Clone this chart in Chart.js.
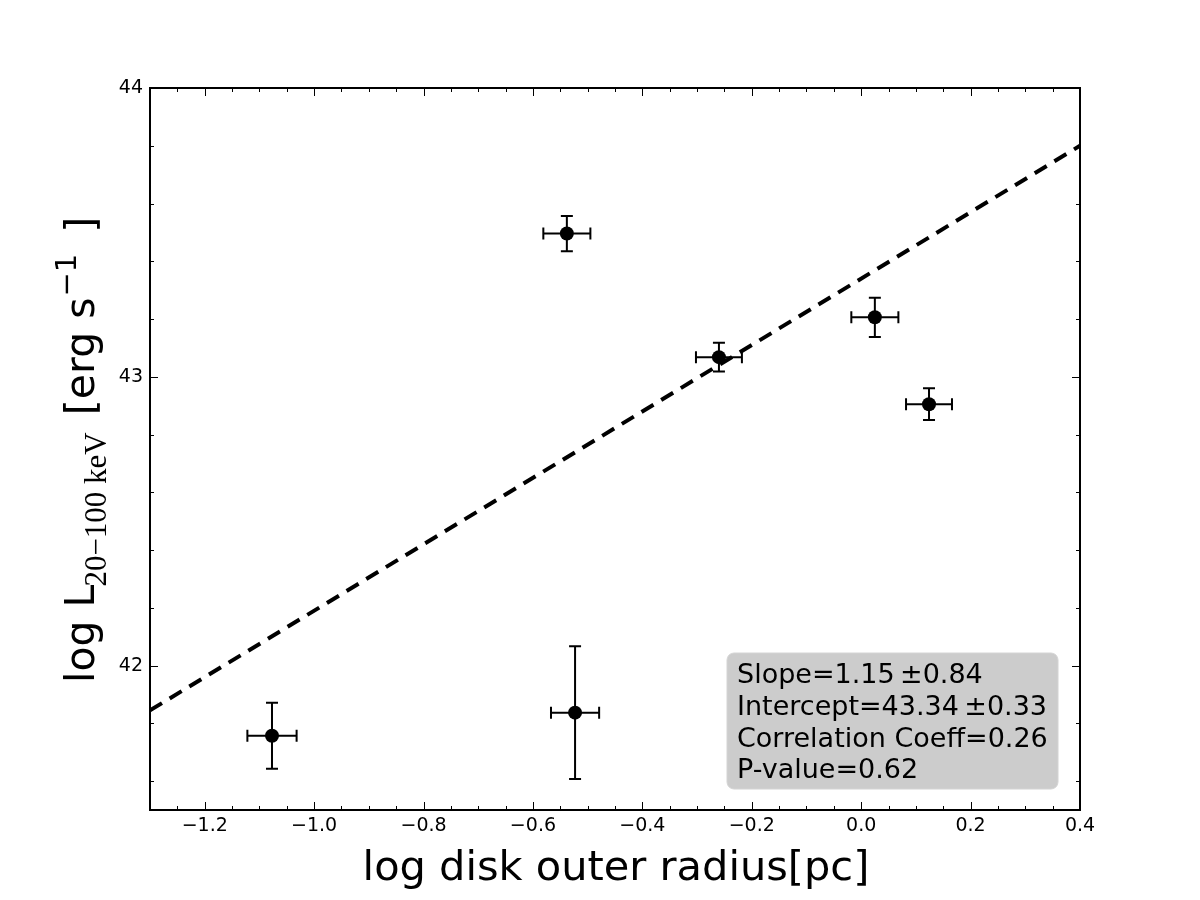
<!DOCTYPE html>
<html><head><meta charset="utf-8">
<script src="https://cdn.jsdelivr.net/npm/chart.js@4.4.1/dist/chart.umd.min.js"></script>
<style>html,body{margin:0;padding:0;background:#fff;} #wrap{width:1200px;height:900px;}</style>
</head><body><div id="wrap"><canvas id="c" width="1200" height="900"></canvas></div>
<script>
// ---- data ----
const xVals = [-1.077, -0.523, -0.538, -0.260, 0.025, 0.124];
const yVals = [41.757, 41.837, 43.496, 43.068, 43.206, 42.905];
const xErr  = [0.045, 0.044, 0.043, 0.042, 0.043, 0.042];
const yErr  = [0.114, 0.230, 0.061, 0.050, 0.068, 0.055];
const fitX  = [-1.3, 0.4];
const fitY  = [41.845, 43.80];
const xMajorTicks = [-1.2, -1.0, -0.8, -0.6, -0.4, -0.2, 0.0, 0.2, 0.4];
const yMajorTicks = [42, 43, 44];
const xRange = [-1.3, 0.4];
const yRange = [41.5, 44];
const xTitle = 'log disk outer radius[pc]';
const statLines = ['Slope=1.15\u2009\u00b10.84', 'Intercept=43.34\u2009\u00b10.33', 'Correlation Coeff=0.26', 'P-value=0.62'];

const SANS = "'DejaVu Sans', sans-serif";
const SERIF = "'Liberation Serif', 'DejaVu Serif', serif";

const fmt = v => { const s = Math.abs(v) < 1e-9 ? '0.0' : v.toFixed(1); return s.replace('-', '\u2212'); };

const errorBars = {
  id: 'errorBars',
  beforeDatasetsDraw(chart) {
    const {ctx, scales: {x, y}} = chart;
    ctx.save();
    ctx.strokeStyle = '#000'; ctx.lineWidth = 2; ctx.lineCap = 'butt';
    const cap = 6;
    for (let i = 0; i < xVals.length; i++) {
      const px = x.getPixelForValue(xVals[i]), py = y.getPixelForValue(yVals[i]);
      const x0 = x.getPixelForValue(xVals[i] - xErr[i]), x1 = x.getPixelForValue(xVals[i] + xErr[i]);
      const y0 = y.getPixelForValue(yVals[i] - yErr[i]), y1 = y.getPixelForValue(yVals[i] + yErr[i]);
      ctx.beginPath();
      ctx.moveTo(x0, py); ctx.lineTo(x1, py);
      ctx.moveTo(x0, py - cap); ctx.lineTo(x0, py + cap);
      ctx.moveTo(x1, py - cap); ctx.lineTo(x1, py + cap);
      ctx.moveTo(px, y0); ctx.lineTo(px, y1);
      ctx.moveTo(px - cap, y0); ctx.lineTo(px + cap, y0);
      ctx.moveTo(px - cap, y1); ctx.lineTo(px + cap, y1);
      ctx.stroke();
    }
    ctx.restore();
  }
};

const frame = {
  id: 'frame',
  afterDraw(chart) {
    const {ctx, chartArea: a, scales: {x, y}} = chart;
    ctx.save();
    // ticks
    ctx.strokeStyle = '#000'; ctx.lineWidth = 1;
    ctx.beginPath();
    const nx = Math.round((xRange[1] - xRange[0]) / 0.05);
    for (let k = 0; k <= nx; k++) {
      const v = xRange[0] + k * 0.05;
      const major = xMajorTicks.some(t => Math.abs(t - v) < 1e-6);
      const L = major ? 8 : 4;
      const px = Math.round(x.getPixelForValue(v)) + 0.5;
      ctx.moveTo(px, a.bottom); ctx.lineTo(px, a.bottom - L);
      ctx.moveTo(px, a.top); ctx.lineTo(px, a.top + L);
    }
    const ny = Math.round((yRange[1] - yRange[0]) / 0.1);
    for (let k = 0; k <= ny; k++) {
      const v = yRange[0] + k * 0.1;
      const r = Math.round(v * 10);
      if (r % 2 !== 0) continue;
      const major = yMajorTicks.some(t => Math.abs(t - v) < 1e-6);
      const L = major ? 8 : 4;
      const py = Math.round(y.getPixelForValue(v)) + 0.5;
      ctx.moveTo(a.left, py); ctx.lineTo(a.left + L, py);
      ctx.moveTo(a.right, py); ctx.lineTo(a.right - L, py);
    }
    ctx.stroke();
    // border
    ctx.lineWidth = 2;
    ctx.strokeRect(a.left, a.top, a.right - a.left, a.bottom - a.top);

    // stats box
    const bx = a.right - 353, by = a.bottom - 157, bw = 331, bh = 136;
    ctx.fillStyle = '#cccccc';
    ctx.strokeStyle = '#d4d4d4'; ctx.lineWidth = 1;
    ctx.beginPath();
    if (ctx.roundRect) ctx.roundRect(bx, by, bw, bh, 7); else ctx.rect(bx, by, bw, bh);
    ctx.fill(); ctx.stroke();
    ctx.fillStyle = '#000';
    ctx.font = '27px ' + SANS;
    ctx.textAlign = 'left'; ctx.textBaseline = 'alphabetic';
    statLines.forEach((s, i) => ctx.fillText(s, bx + 10, by + 30 + i * 31.8));

    // x title
    ctx.font = '41.5px ' + SANS;
    ctx.textAlign = 'center';
    ctx.fillText(xTitle, (a.left + a.right) / 2 + 1, 880);

    // y title (rotated, with sub/superscripts)
    ctx.translate(94, 683);
    ctx.rotate(-Math.PI / 2);
    ctx.textAlign = 'left';
    let cx = 0;
    const part = (t, font, dy) => { ctx.font = font; ctx.fillText(t, cx, dy); cx += ctx.measureText(t).width; };
    part('log L', '41px ' + SANS, 0);
    cx -= 2;
    part('20\u2212100 keV', '31px ' + SERIF, 12);
    cx += 4;
    part(' [erg s', '41px ' + SANS, 0);
    cx += 1;
    part('\u22121', '29px ' + SANS, -18);
    cx += 8;
    part(' ]', '41px ' + SANS, 0);
    ctx.restore();
  }
};

new Chart(document.getElementById('c'), {
  type: 'scatter',
  data: {
    datasets: [
      {
        data: xVals.map((v, i) => ({x: v, y: yVals[i]})),
        backgroundColor: '#000', borderColor: '#000',
        pointRadius: 7, pointHoverRadius: 7, borderWidth: 0
      },
      {
        type: 'line',
        data: fitX.map((v, i) => ({x: v, y: fitY[i]})),
        borderColor: '#000', borderWidth: 4, borderDash: [14, 9],
        pointRadius: 0, fill: false, showLine: true, tension: 0
      }
    ]
  },
  options: {
    responsive: false, animation: false, devicePixelRatio: 1,
    layout: {padding: {top: 88, right: 120, left: 0, bottom: 0}},
    plugins: {legend: {display: false}, tooltip: {enabled: false}},
    scales: {
      x: {
        type: 'linear', min: xRange[0], max: xRange[1],
        grid: {display: false, drawTicks: false}, border: {display: false},
        afterBuildTicks: s => { s.ticks = xMajorTicks.map(v => ({value: v})); },
        afterFit: s => { s.height = 90; },
        ticks: {padding: 5, color: '#000', font: {family: SANS, size: 19}, callback: v => fmt(v), maxRotation: 0, autoSkip: false}
      },
      y: {
        type: 'linear', min: yRange[0], max: yRange[1],
        grid: {display: false, drawTicks: false}, border: {display: false},
        afterBuildTicks: s => { s.ticks = yMajorTicks.map(v => ({value: v})); },
        afterFit: s => { s.width = 150; },
        ticks: {padding: 7, color: '#000', font: {family: SANS, size: 19}, callback: v => String(v), autoSkip: false}
      }
    }
  },
  plugins: [errorBars, frame]
});
</script></body></html>
